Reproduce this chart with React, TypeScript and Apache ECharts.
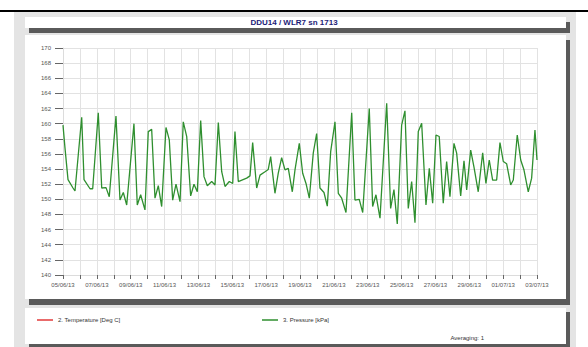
import { useEffect, useRef } from "react";
import * as echarts from "echarts";

const titleText = "DDU14 / WLR7 sn 1713";
const seriesNames = ["2. Temperature [Deg C]", "3. Pressure [kPa]"];
const seriesColors = ["#e23a3a", "#2f8f2f"];
const averagingText = "Averaging: 1";
const yMin = 140;
const yMax = 170;
const yStep = 2;
const startDateMs = Date.UTC(2013, 5, 5);
const totalHours = 672;

// [hours since 05/06/13 00:00, value]
const temperatureReadings: [number, number][] = [];
const pressureReadings: [number, number][] = [
  [0, 159.8], [2.8, 156.8], [7.1, 152.6], [14.2, 151.5], [17.0, 151.1],
  [26.5, 160.85], [29.8, 152.6], [38.3, 151.4], [42.1, 151.4],
  [50.0, 161.45], [54.9, 151.5], [61.0, 151.55], [65.6, 150.35],
  [75.1, 161.0], [80.8, 149.9], [85.5, 150.9], [90.3, 149.25],
  [100.6, 160.0], [105.3, 149.25], [110.1, 150.6], [116.2, 148.6],
  [120.9, 158.95], [125.7, 159.25], [130.4, 150.15], [135.1, 151.8], [139.9, 149.05],
  [146.0, 159.5], [150.7, 157.85], [155.5, 149.9], [160.2, 152.0], [165.9, 149.7],
  [170.5, 160.25], [175.4, 158.3], [181.0, 150.45], [185.7, 152.0], [190.4, 151.0],
  [195.2, 160.4], [199.9, 153.0], [204.6, 151.8], [210.8, 152.35], [215.5, 151.9],
  [220.2, 160.15], [225.0, 153.65], [229.7, 151.7], [235.8, 152.35], [240.6, 152.1],
  [243.8, 158.95], [248.5, 152.35], [260.4, 152.8], [265.1, 153.1],
  [268.9, 157.5], [274.6, 151.5], [279.3, 153.2], [286.4, 153.65], [291.0, 153.95],
  [294.4, 155.65], [300.5, 150.8], [305.2, 153.45], [310.0, 155.5], [314.7, 153.9],
  [319.4, 154.1], [325.1, 151.0], [328.9, 153.9],
  [335.0, 157.4], [339.8, 153.45], [344.5, 152.1], [349.2, 150.15], [354.8, 156.1],
  [359.6, 158.7], [364.3, 151.5], [370.0, 150.9], [374.7, 149.1], [379.5, 156.3],
  [385.6, 160.25], [390.3, 150.8], [395.1, 150.15], [401.2, 148.25],
  [409.3, 161.45], [413.9, 149.9], [420.0, 150.0], [424.9, 148.25],
  [434.2, 162.0], [439.0, 149.05], [443.7, 150.6], [449.4, 147.5],
  [458.9, 162.7], [464.5, 148.8], [469.2, 151.3], [473.9, 146.75],
  [480.1, 159.8], [484.8, 161.7], [489.5, 148.8], [494.3, 152.35], [499.0, 146.9],
  [503.7, 158.95], [508.5, 160.05], [514.6, 149.25], [519.3, 154.1], [524.1, 149.5],
  [528.8, 158.5], [533.4, 158.3], [539.1, 149.5], [543.9, 155.0], [548.6, 150.35],
  [554.3, 157.4], [558.1, 156.1], [563.8, 150.45], [568.5, 155.1], [572.3, 151.25],
  [578.0, 156.5], [582.6, 154.3], [588.7, 151.0], [595.0, 156.15], [599.6, 152.1],
  [604.3, 155.2], [609.1, 152.55], [614.8, 152.55], [619.5, 157.5], [624.2, 155.0],
  [629.0, 154.7], [634.7, 151.9], [638.4, 152.55], [644.0, 158.5], [648.9, 155.2],
  [653.5, 153.9], [659.6, 151.0], [664.4, 152.8], [669.1, 159.15], [672, 155.2],
];

const pad = (n: number) => (n < 10 ? "0" + n : "" + n);
const formatHour = (h: number) => {
  if (Math.round(h) % 48 !== 0) return "";
  const d = new Date(startDateMs + h * 3600000);
  return pad(d.getUTCDate()) + "/" + pad(d.getUTCMonth() + 1) + "/" + pad(d.getUTCFullYear() % 100);
};

const FONT = "Liberation Sans, Arial, sans-serif";

export default function App() {
  const ref = useRef<HTMLDivElement>(null);
  useEffect(() => {
    document.body.style.margin = "0";
    const chart = echarts.init(ref.current!, null, { renderer: "svg" });
    const legendCommon = {
      top: 317,
      padding: 0,
      icon: "rect",
      itemWidth: 16,
      itemHeight: 1.5,
      textStyle: { fontSize: 6, color: "#333", fontFamily: FONT },
      selectedMode: false,
    };
    chart.setOption({
      animation: false,
      backgroundColor: "#ffffff",
      textStyle: { fontFamily: FONT },
      graphic: {
        z: -1,
        elements: [
          { type: "rect", z: -10, shape: { x: 0, y: 10, width: 588, height: 2 }, style: { fill: "#000" } },
          { type: "rect", z: -10, shape: { x: 14, y: 12, width: 562, height: 335 }, style: { fill: "#e4e4e4" } },
          // title panel
          { type: "rect", z: -9, shape: { x: 29, y: 22, width: 541, height: 11 }, style: { fill: "#5a5a5a" } },
          { type: "rect", z: -8, shape: { x: 25, y: 17, width: 541, height: 11 }, style: { fill: "#ffffff" } },
          // chart panel
          { type: "rect", z: -9, shape: { x: 29, y: 40, width: 541, height: 265 }, style: { fill: "#5a5a5a" } },
          { type: "rect", z: -8, shape: { x: 25, y: 35, width: 541, height: 264 }, style: { fill: "#ffffff" } },
          // legend panel
          { type: "rect", z: -9, shape: { x: 29, y: 312, width: 541, height: 35 }, style: { fill: "#5a5a5a" } },
          { type: "rect", z: -8, shape: { x: 25, y: 308, width: 541, height: 36 }, style: { fill: "#ffffff" } },
          {
            type: "text",
            z: 5,
            x: 484,
            y: 338,
            style: {
              text: averagingText,
              fontSize: 6,
              fill: "#333",
              fontFamily: FONT,
              textAlign: "right",
              textVerticalAlign: "middle",
            },
          },
        ],
      },
      title: {
        text: titleText,
        left: "center",
        top: 18,
        padding: 0,
        textStyle: { fontSize: 8, fontWeight: "bold", color: "#1c1c78", fontFamily: FONT },
      },
      legend: [
        { ...legendCommon, left: 37, data: [seriesNames[0]] },
        { ...legendCommon, left: 262, data: [seriesNames[1]] },
      ],
      grid: { left: 63, right: 51, top: 48, bottom: 72 },
      xAxis: {
        type: "value",
        min: 0,
        max: totalHours,
        interval: 24,
        axisLine: { show: true, lineStyle: { color: "#dcdcdc", width: 1 } },
        axisTick: { show: true, length: 4, lineStyle: { color: "#666" } },
        splitLine: { show: true, lineStyle: { color: "#e2e2e2", width: 1 } },
        axisLabel: {
          fontSize: 6,
          color: "#555",
          margin: 7,
          fontFamily: FONT,
          showMinLabel: true,
          showMaxLabel: true,
          hideOverlap: false,
          formatter: (v: number) => formatHour(v),
        },
      },
      yAxis: {
        type: "value",
        min: yMin,
        max: yMax,
        interval: yStep,
        axisLine: { show: true, lineStyle: { color: "#dcdcdc", width: 1 } },
        axisTick: { show: true, length: 8, lineStyle: { color: "#666" } },
        splitLine: { show: true, lineStyle: { color: "#e2e2e2", width: 1 } },
        axisLabel: { fontSize: 6, color: "#555", margin: 12, fontFamily: FONT },
      },
      series: [
        {
          name: seriesNames[0],
          type: "line",
          data: temperatureReadings,
          showSymbol: false,
          color: seriesColors[0],
          lineStyle: { width: 1.3 },
        },
        {
          name: seriesNames[1],
          type: "line",
          data: pressureReadings,
          showSymbol: false,
          color: seriesColors[1],
          lineStyle: { width: 1.3, color: seriesColors[1] },
        },
      ],
    });
    return () => chart.dispose();
  }, []);
  return <div ref={ref} style={{ width: 588, height: 347 }} />;
}
